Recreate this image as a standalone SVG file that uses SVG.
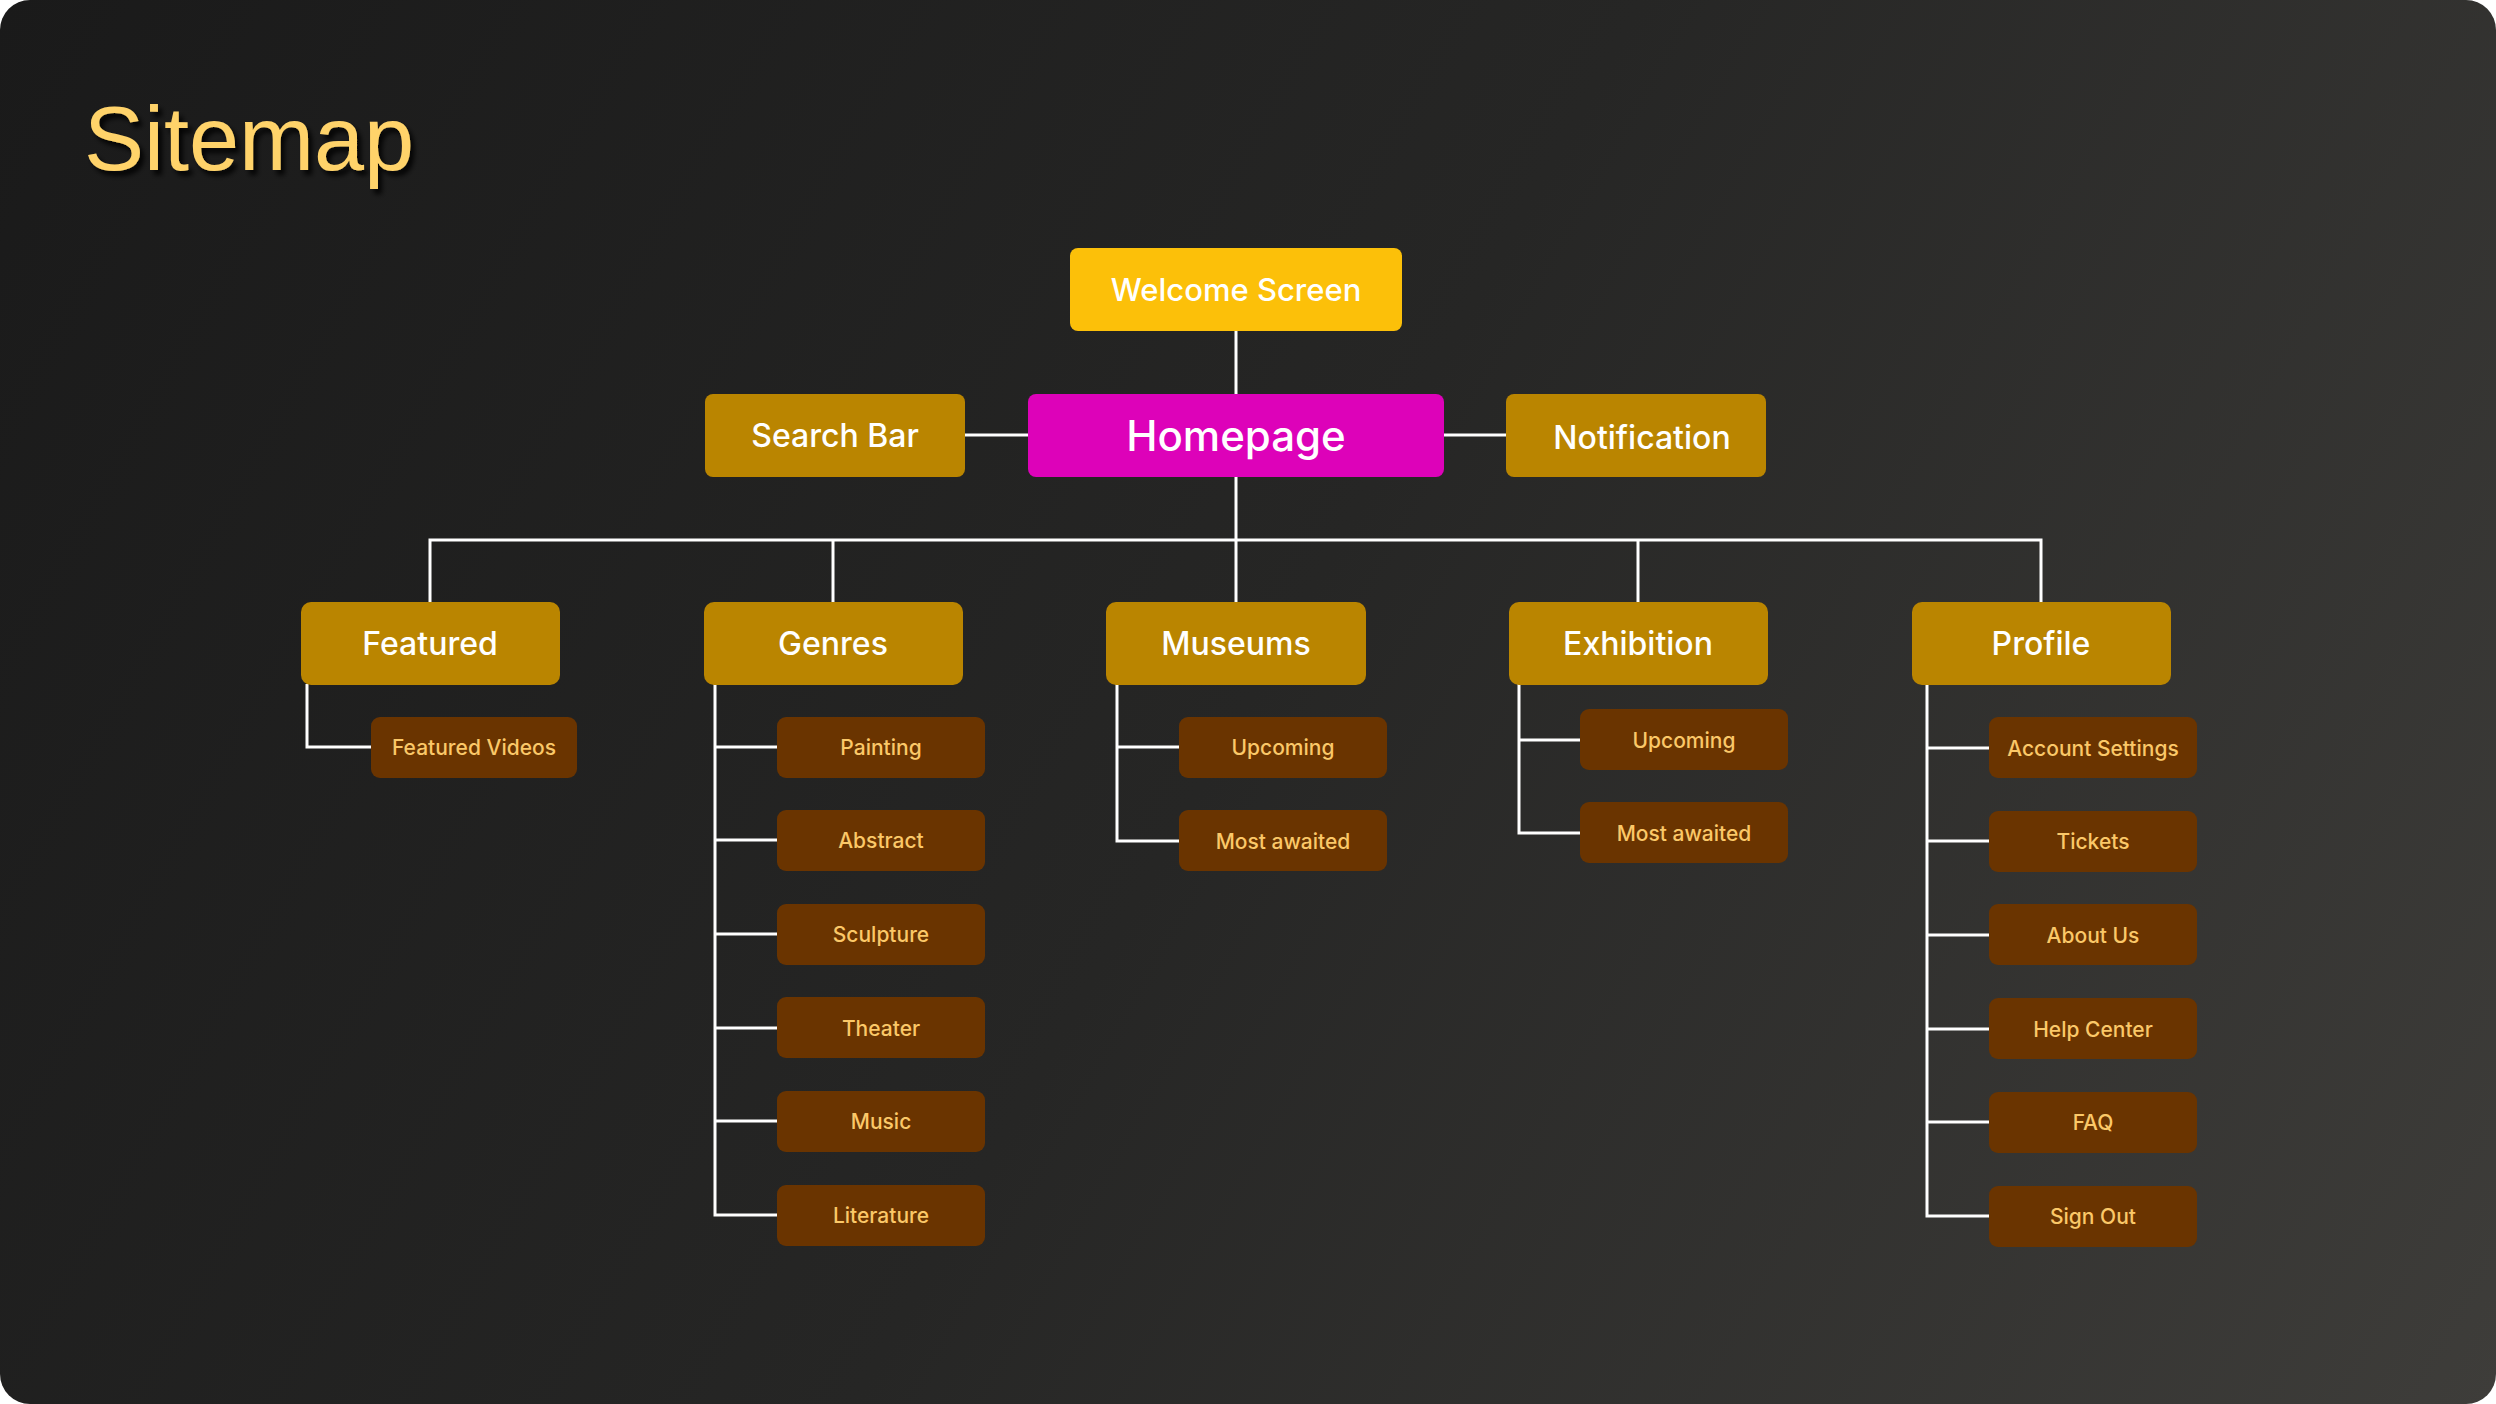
<svg xmlns="http://www.w3.org/2000/svg" width="2496" height="1404" viewBox="0 0 2496 1404">
<defs>
<linearGradient id="bg" x1="0" y1="0" x2="2496" y2="1404" gradientUnits="userSpaceOnUse">
<stop offset="0" stop-color="#1a1a1a"/>
<stop offset="0.5" stop-color="#262625"/>
<stop offset="1" stop-color="#3e3d3a"/>
</linearGradient>
<filter id="sh" x="-10%" y="-20%" width="130%" height="150%">
<feDropShadow dx="4" dy="5" stdDeviation="2.5" flood-color="#000" flood-opacity="0.85"/>
</filter>
<style>
.main text{font-family:Inter,"Noto Sans","Liberation Sans",sans-serif;text-anchor:middle;dominant-baseline:central}
.top rect{fill:#fcc009}
.home rect{fill:#dd02b9}
.l2 rect{fill:#ba8500}
.leaf rect{fill:#6a3400}
.top text{fill:#ffffff;font-size:31px;font-weight:500}
.l2 text{fill:#ffffff;font-size:32px;font-weight:500}
.home text{fill:#ffffff;font-size:42px;font-weight:500}
.leaf text{fill:#fbc868;font-size:21px;font-weight:500}
.conn path{fill:none;stroke:#ffffff;stroke-width:3}
</style>
</defs>
<rect x="0" y="0" width="2496" height="1404" fill="#ffffff"/>
<rect x="0" y="0" width="2496" height="1404" rx="30" fill="url(#bg)"/>
<text x="84" y="170" font-family="'Liberation Sans',Arial,sans-serif" font-size="90" fill="#ffd36b" filter="url(#sh)">Sitemap</text>

<g class="conn">
<path d="M1236 331V394"/>
<path d="M1236 477V540"/>
<path d="M964 435H1029"/>
<path d="M1444 435H1507"/>
<path d="M430 602V540H2041V602"/>
<path d="M833 540V602"/>
<path d="M1236 540V602"/>
<path d="M1638 540V602"/>
<path d="M307 684V747H372"/>
<path d="M715 684V1215H778"/>
<path d="M715 747H778M715 840H778M715 934H778M715 1028H778M715 1121H778"/>
<path d="M1117 684V841H1180M1117 747H1180"/>
<path d="M1519 684V833H1581M1519 740H1581"/>
<path d="M1927 684V1216H1989"/>
<path d="M1927 748H1989M1927 841H1989M1927 935H1989M1927 1029H1989M1927 1122H1989"/>
</g>

<g class="main">
<g id="welcome" class="top"><rect x="1070" y="248" width="332" height="83" rx="8"/><text x="1236" y="289">Welcome Screen</text></g>
<g id="homepage" class="home"><rect x="1028" y="394" width="416" height="83" rx="8"/><text x="1236" y="435">Homepage</text></g>
<g id="search" class="l2"><rect x="705" y="394" width="260" height="83" rx="8"/><text x="835" y="435">Search Bar</text></g>
<g id="notification" class="l2"><rect x="1506" y="394" width="260" height="83" rx="8"/><text x="1642" y="437">Notification</text></g>

<g id="featured" class="l2"><rect x="301" y="602" width="259" height="83" rx="10"/><text x="430" y="643">Featured</text></g>
<g id="genres" class="l2"><rect x="704" y="602" width="259" height="83" rx="10"/><text x="833" y="643">Genres</text></g>
<g id="museums" class="l2"><rect x="1106" y="602" width="260" height="83" rx="10"/><text x="1236" y="643">Museums</text></g>
<g id="exhibition" class="l2"><rect x="1509" y="602" width="259" height="83" rx="10"/><text x="1638" y="643">Exhibition</text></g>
<g id="profile" class="l2"><rect x="1912" y="602" width="259" height="83" rx="10"/><text x="2041" y="643">Profile</text></g>

<g id="featured-videos" class="leaf"><rect x="371" y="717" width="206" height="61" rx="9"/><text x="474" y="747">Featured Videos</text></g>

<g id="painting" class="leaf"><rect x="777" y="717" width="208" height="61" rx="9"/><text x="881" y="747">Painting</text></g>
<g id="abstract" class="leaf"><rect x="777" y="810" width="208" height="61" rx="9"/><text x="881" y="840">Abstract</text></g>
<g id="sculpture" class="leaf"><rect x="777" y="904" width="208" height="61" rx="9"/><text x="881" y="934">Sculpture</text></g>
<g id="theater" class="leaf"><rect x="777" y="997" width="208" height="61" rx="9"/><text x="881" y="1028">Theater</text></g>
<g id="music" class="leaf"><rect x="777" y="1091" width="208" height="61" rx="9"/><text x="881" y="1121">Music</text></g>
<g id="literature" class="leaf"><rect x="777" y="1185" width="208" height="61" rx="9"/><text x="881" y="1215">Literature</text></g>

<g id="museums-upcoming" class="leaf"><rect x="1179" y="717" width="208" height="61" rx="9"/><text x="1283" y="747">Upcoming</text></g>
<g id="museums-most-awaited" class="leaf"><rect x="1179" y="810" width="208" height="61" rx="9"/><text x="1283" y="841">Most awaited</text></g>

<g id="exhibition-upcoming" class="leaf"><rect x="1580" y="709" width="208" height="61" rx="9"/><text x="1684" y="740">Upcoming</text></g>
<g id="exhibition-most-awaited" class="leaf"><rect x="1580" y="802" width="208" height="61" rx="9"/><text x="1684" y="833">Most awaited</text></g>

<g id="account-settings" class="leaf"><rect x="1989" y="717" width="208" height="61" rx="9"/><text x="2093" y="748">Account Settings</text></g>
<g id="tickets" class="leaf"><rect x="1989" y="811" width="208" height="61" rx="9"/><text x="2093" y="841">Tickets</text></g>
<g id="about-us" class="leaf"><rect x="1989" y="904" width="208" height="61" rx="9"/><text x="2093" y="935">About Us</text></g>
<g id="help-center" class="leaf"><rect x="1989" y="998" width="208" height="61" rx="9"/><text x="2093" y="1029">Help Center</text></g>
<g id="faq" class="leaf"><rect x="1989" y="1092" width="208" height="61" rx="9"/><text x="2093" y="1122">FAQ</text></g>
<g id="sign-out" class="leaf"><rect x="1989" y="1186" width="208" height="61" rx="9"/><text x="2093" y="1216">Sign Out</text></g>
</g>
</svg>
